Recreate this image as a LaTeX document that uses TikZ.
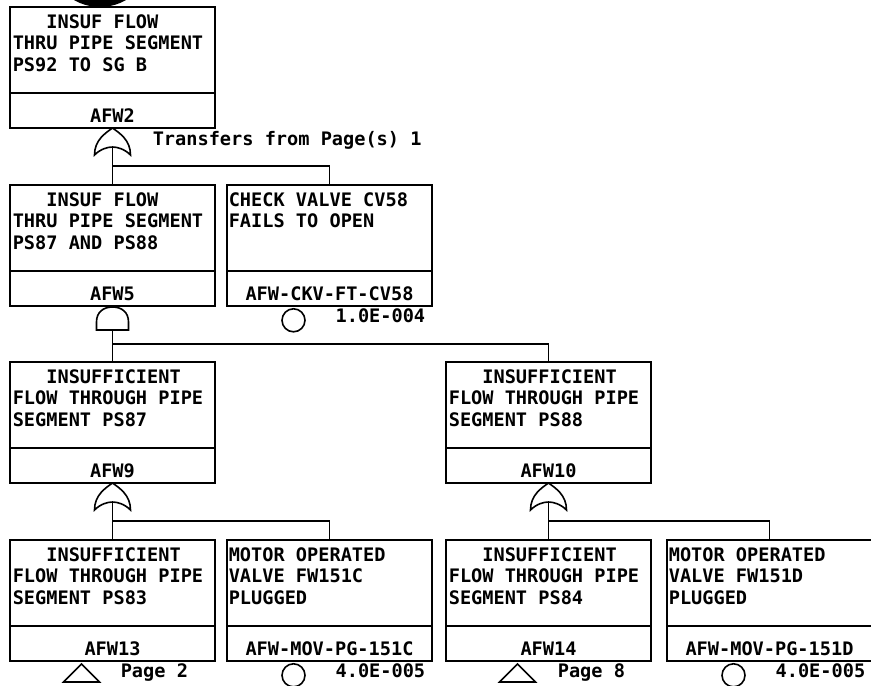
\documentclass[tikz,border=0pt]{standalone}
\usepackage{fontspec}
\usetikzlibrary{positioning}
\newfontfamily\ftfont{DejaVu Sans Mono}

\begin{document}
\begin{tikzpicture}[
    x=1pt, y=-1pt,
    line width=1.6pt,
    ftext/.style={font=\ftfont\bfseries\fontsize{18.6pt}{21.5pt}\selectfont, inner sep=0pt},
    descbox/.style={rectangle, draw, minimum width=205pt, minimum height=86pt,
                anchor=north west, outer sep=0pt, inner sep=0pt},
    idbox/.style={rectangle, draw, minimum width=205pt, minimum height=35pt,
                outer sep=0pt, ftext, text height=24pt, text depth=0pt},
    desc/.style={ftext, anchor=north west, align=left},
    prob/.style={ftext, anchor=base east},
    basic/.style={circle, draw, minimum size=23pt, inner sep=0pt},
    wire/.style={line width=1.6pt},
    pics/orgate/.style={code={
        \draw (0,0) .. controls (7,5) and (18,12) .. (18,27)
              .. controls (12,21) and (5,19) .. (0,19)
              .. controls (-5,19) and (-12,21) .. (-18,27)
              .. controls (-18,12) and (-7,5) .. cycle;
        \coordinate (-out) at (0,19);
        \coordinate (-bar) at (0,38);
    }},
    pics/andgate/.style={code={
        \draw (-16,24) -- (-16,16) .. controls (-16,6) and (-9,1) .. (0,1)
              .. controls (9,1) and (16,6) .. (16,16) -- (16,24) -- cycle;
        \coordinate (-out) at (0,24);
        \coordinate (-bar) at (0,38);
    }},
    pics/transfer/.style={code={
        \draw (0,0) -- (18,18) -- (-18,18) -- cycle;
    }}
]
\clip (0,0) rectangle (871,686);
\fill (100,-45) circle (52);

% top event
\node[descbox] (afw2) at (10,7) {};
\node[desc] (afw2t) at ([xshift=2pt,yshift=-6.5pt]afw2.north west)
    {~~~INSUF FLOW\\THRU PIPE SEGMENT\\PS92 TO SG B};
\node[idbox, below=0pt of afw2] (afw2id) {AFW2};
\pic (g1) at (afw2id.south) {orgate};
\node[ftext, anchor=base west] (xfer) at ([xshift=142pt,yshift=-17pt]afw2id.south west)
    {Transfers from Page(s) 1};

% second row
\node[descbox] (afw5) at (10,185) {};
\node[desc] (afw5t) at ([xshift=2pt,yshift=-6.5pt]afw5.north west)
    {~~~INSUF FLOW\\THRU PIPE SEGMENT\\PS87 AND PS88};
\node[idbox, below=0pt of afw5] (afw5id) {AFW5};
\pic (g2) at (afw5id.south) {andgate};

\node[descbox] (cv58) at (227,185) {};
\node[desc] (cv58t) at ([xshift=1pt,yshift=-6.5pt]cv58.north west)
    {CHECK VALVE CV58\\FAILS TO OPEN};
\node[idbox, below=0pt of cv58] (cv58id) {AFW-CKV-FT-CV58};
\node[basic, below=2pt of cv58id.south, xshift=-36pt] (cv58ev) {};
\node[prob] (cv58p) at ([xshift=-6pt,yshift=-16pt]cv58id.south east) {1.0E-004};

% third row
\node[descbox] (afw9) at (10,362) {};
\node[desc] (afw9t) at ([xshift=2pt,yshift=-6.5pt]afw9.north west)
    {~~~INSUFFICIENT\\FLOW THROUGH PIPE\\SEGMENT PS87};
\node[idbox, below=0pt of afw9] (afw9id) {AFW9};
\pic (g3) at (afw9id.south) {orgate};

\node[descbox] (afw10) at (446,362) {};
\node[desc] (afw10t) at ([xshift=2pt,yshift=-6.5pt]afw10.north west)
    {~~~INSUFFICIENT\\FLOW THROUGH PIPE\\SEGMENT PS88};
\node[idbox, below=0pt of afw10] (afw10id) {AFW10};
\pic (g4) at (afw10id.south) {orgate};

% bottom row
\node[descbox] (afw13) at (10,540) {};
\node[desc] (afw13t) at ([xshift=2pt,yshift=-6.5pt]afw13.north west)
    {~~~INSUFFICIENT\\FLOW THROUGH PIPE\\SEGMENT PS83};
\node[idbox, below=0pt of afw13] (afw13id) {AFW13};
\pic (t13) at ([xshift=-31pt,yshift=-3pt]afw13id.south) {transfer};
\node[ftext, anchor=base west] (pg13) at ([xshift=110pt,yshift=-16pt]afw13id.south west) {Page 2};

\node[descbox] (mov151c) at (227,540) {};
\node[desc] (mov151ct) at ([xshift=1pt,yshift=-6.5pt]mov151c.north west)
    {MOTOR OPERATED\\VALVE FW151C\\PLUGGED};
\node[idbox, below=0pt of mov151c] (mov151cid) {AFW-MOV-PG-151C};
\node[basic, below=2pt of mov151cid.south, xshift=-36pt] (mov151cev) {};
\node[prob] (mov151cp) at ([xshift=-6pt,yshift=-16pt]mov151cid.south east) {4.0E-005};

\node[descbox] (afw14) at (446,540) {};
\node[desc] (afw14t) at ([xshift=2pt,yshift=-6.5pt]afw14.north west)
    {~~~INSUFFICIENT\\FLOW THROUGH PIPE\\SEGMENT PS84};
\node[idbox, below=0pt of afw14] (afw14id) {AFW14};
\pic (t14) at ([xshift=-31pt,yshift=-3pt]afw14id.south) {transfer};
\node[ftext, anchor=base west] (pg14) at ([xshift=111pt,yshift=-16pt]afw14id.south west) {Page 8};

\node[descbox] (mov151d) at (667,540) {};
\node[desc] (mov151dt) at ([xshift=1pt,yshift=-6.5pt]mov151d.north west)
    {MOTOR OPERATED\\VALVE FW151D\\PLUGGED};
\node[idbox, below=0pt of mov151d] (mov151did) {AFW-MOV-PG-151D};
\node[basic, below=2pt of mov151did.south, xshift=-36pt] (mov151dev) {};
\node[prob] (mov151dp) at ([xshift=-6pt,yshift=-16pt]mov151did.south east) {4.0E-005};

% gate connections
\draw[wire] (g1-out) -- (afw5.north);
\draw[wire] (g1-bar) -| (cv58.north);
\draw[wire] (g2-out) -- (afw9.north);
\draw[wire] (g2-bar) -| (afw10.north);
\draw[wire] (g3-out) -- (afw13.north);
\draw[wire] (g3-bar) -| (mov151c.north);
\draw[wire] (g4-out) -- (afw14.north);
\draw[wire] (g4-bar) -| (mov151d.north);
\end{tikzpicture}
\end{document}
